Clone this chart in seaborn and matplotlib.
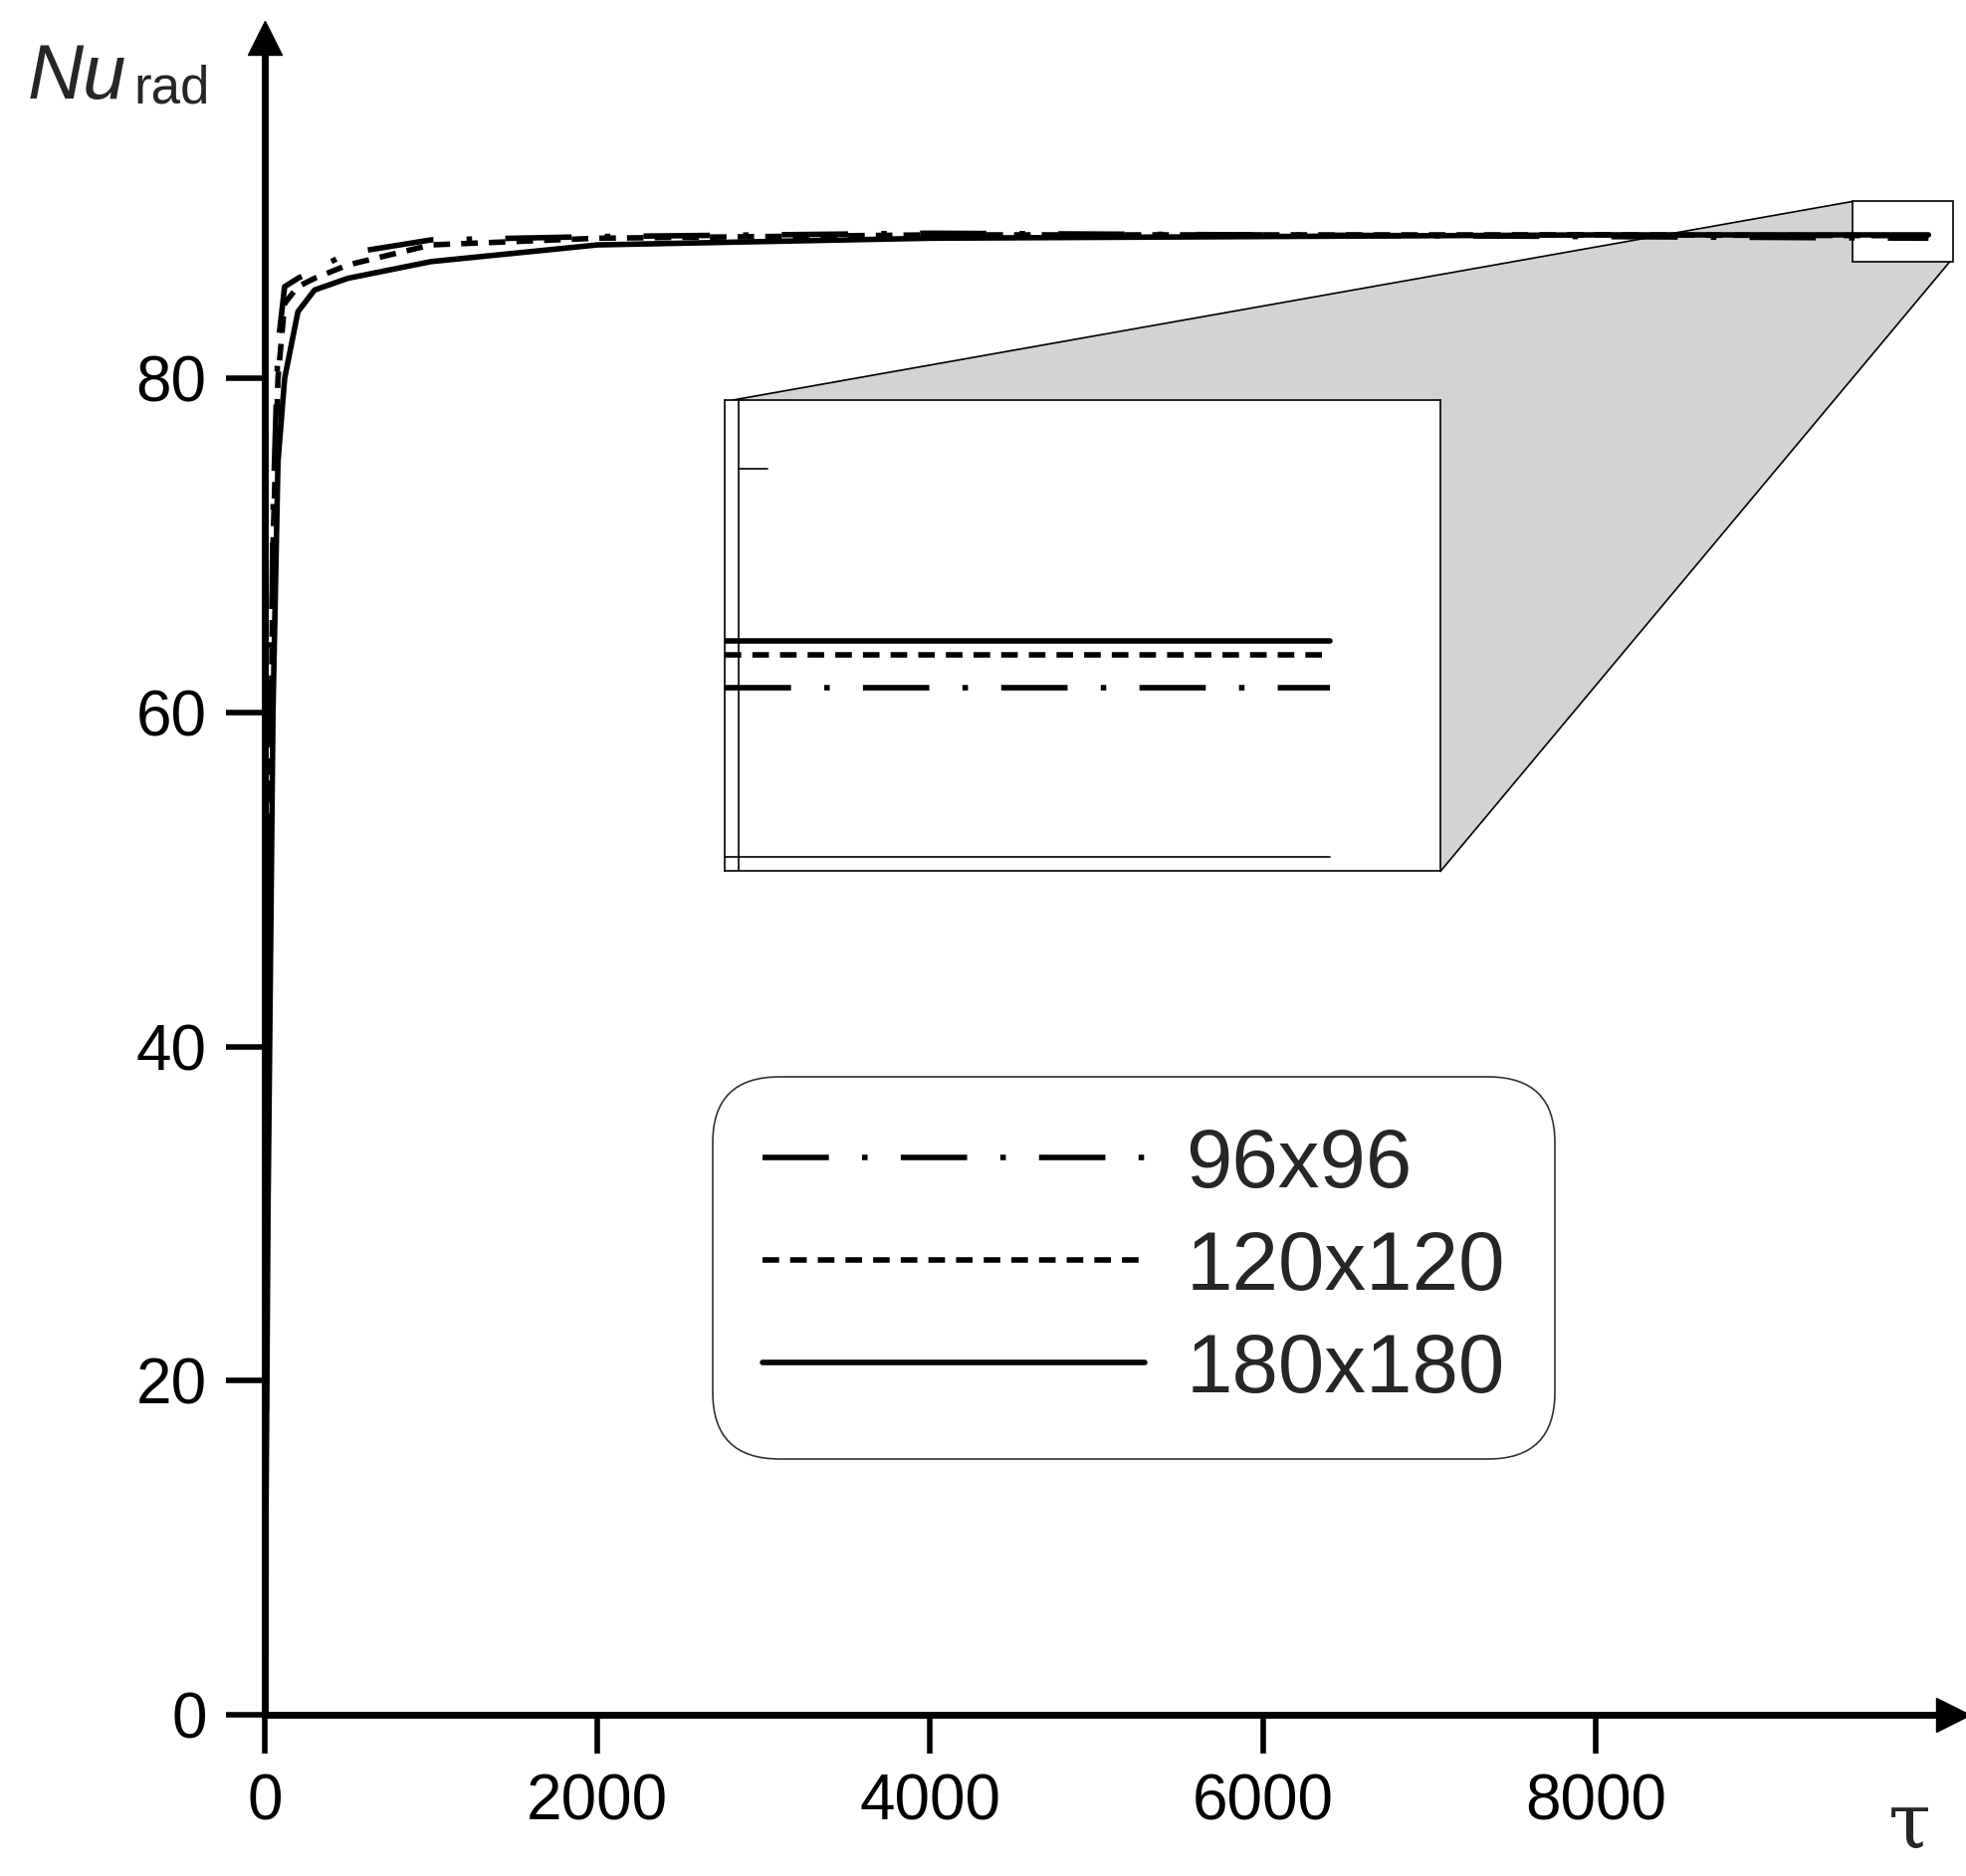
import numpy as np
import matplotlib
matplotlib.use("Agg")
import matplotlib.pyplot as plt
import seaborn as sns
from matplotlib.patches import Polygon, Rectangle

sns.set_style("white")
plt.rcParams['font.family'] = ['Liberation Sans', 'DejaVu Sans']

tau = [0, 20, 50, 80, 120, 200, 300, 500, 1000, 2000, 4000, 6000, 8000, 10000]
nu_180 = [0, 30, 60, 75, 80, 84, 85.3, 86, 87, 88, 88.4, 88.5, 88.6, 88.6]
nu_120 = [0, 40, 70, 80, 84.5, 85.5, 86, 86.8, 88, 88.4, 88.6, 88.6, 88.6, 88.55]
nu_96 = [0, 45, 72, 82, 85.5, 86, 86.5, 87.5, 88.3, 88.5, 88.7, 88.6, 88.5, 88.4]
labels = ["96x96", "120x120", "180x180"]
styles = [(0, (12, 6, 1, 6)), (0, (3, 2)), "-"]

W, H = 1560, 1490  # reference pixel frame
def fx(p): return p / W
def fy(p): return 1 - p / H

fig = plt.figure(figsize=(19.75, 18.85), dpi=100)
ax = fig.add_axes([fx(210), fy(1362), fx(1550) - fx(210), fy(30) - fy(1362)])
ax.set_facecolor("none")
for y, lab, ls in zip([nu_96, nu_120, nu_180], labels, styles):
    sns.lineplot(x=tau, y=y, ax=ax, color="black", lw=4, linestyle=ls, label=lab, zorder=3)
ax.set_xlim(0, 10150)
ax.set_ylim(0, 100.4)
ax.set_xticks([0, 2000, 4000, 6000, 8000])
ax.set_yticks([0, 20, 40, 60, 80])
for s in ["top", "right"]:
    ax.spines[s].set_visible(False)
for s in ["left", "bottom"]:
    ax.spines[s].set_linewidth(5)
    ax.spines[s].set_color("black")
ax.tick_params(direction="out", length=28, width=4, labelsize=46, pad=14,
               left=True, bottom=True, colors="black")
ax.plot(1, 0, ">", ms=24, color="black", transform=ax.transAxes, clip_on=False)
ax.plot(0, 1, "^", ms=24, color="black", transform=ax.transAxes, clip_on=False)

fig.text(fx(22), fy(78), "Nu", fontsize=56, style="italic", va="baseline")
fig.text(fx(106), fy(82), "rad", fontsize=38, va="baseline")
fig.text(fx(1498), fy(1468), "τ", fontsize=56, va="baseline", family="DejaVu Serif")

# zoom connector
poly = Polygon([(fx(580), fy(318)), (fx(1470), fy(160)), (fx(1547), fy(208)), (fx(1143), fy(692))],
               closed=True, facecolor="#d3d3d3", edgecolor="black", lw=1.2,
               transform=fig.transFigure, zorder=1)
ax.add_patch(poly)
ax.add_patch(Rectangle((9545, 87.0), 600, 3.6, facecolor="white", edgecolor="black",
                       lw=1.2, zorder=1.5, clip_on=False))

# inset
axi = fig.add_axes([fx(575), fy(692), fx(1143) - fx(575), fy(318) - fy(692)])
axi.set_xlim(9500, 10100)
axi.set_ylim(87.62, 89.62)
xi = [9500, 10007]
axi.plot(xi, [88.6, 88.6], color="black", lw=4, ls="-")
axi.plot(xi, [88.54, 88.54], color="black", lw=4, ls=(0, (3, 2)))
axi.plot(xi, [88.4, 88.4], color="black", lw=4, ls=(0, (12, 6, 1, 6)))
axi.plot([0.02, 0.02], [0, 1], color="black", lw=1.2, transform=axi.transAxes)
axi.plot([0.0, 0.845], [0.03, 0.03], color="black", lw=1.2, transform=axi.transAxes)
axi.plot([0.02, 0.06], [0.855, 0.855], color="black", lw=1.2, transform=axi.transAxes)
axi.set_xticks([])
axi.set_yticks([])
for s in axi.spines.values():
    s.set_linewidth(1.2)
    s.set_color("black")

leg = ax.legend(loc="upper left", bbox_to_anchor=(fx(533), fy(822)), bbox_transform=fig.transFigure,
                fontsize=60, handlelength=4.6, handletextpad=0.5, labelspacing=0.3,
                borderpad=0.6, fancybox=True, frameon=True, edgecolor="black")
leg.get_frame().set_linewidth(1.2)
leg.get_frame().set_boxstyle("round", pad=0, rounding_size=0.8)

fig.savefig("out.png", dpi=100)
